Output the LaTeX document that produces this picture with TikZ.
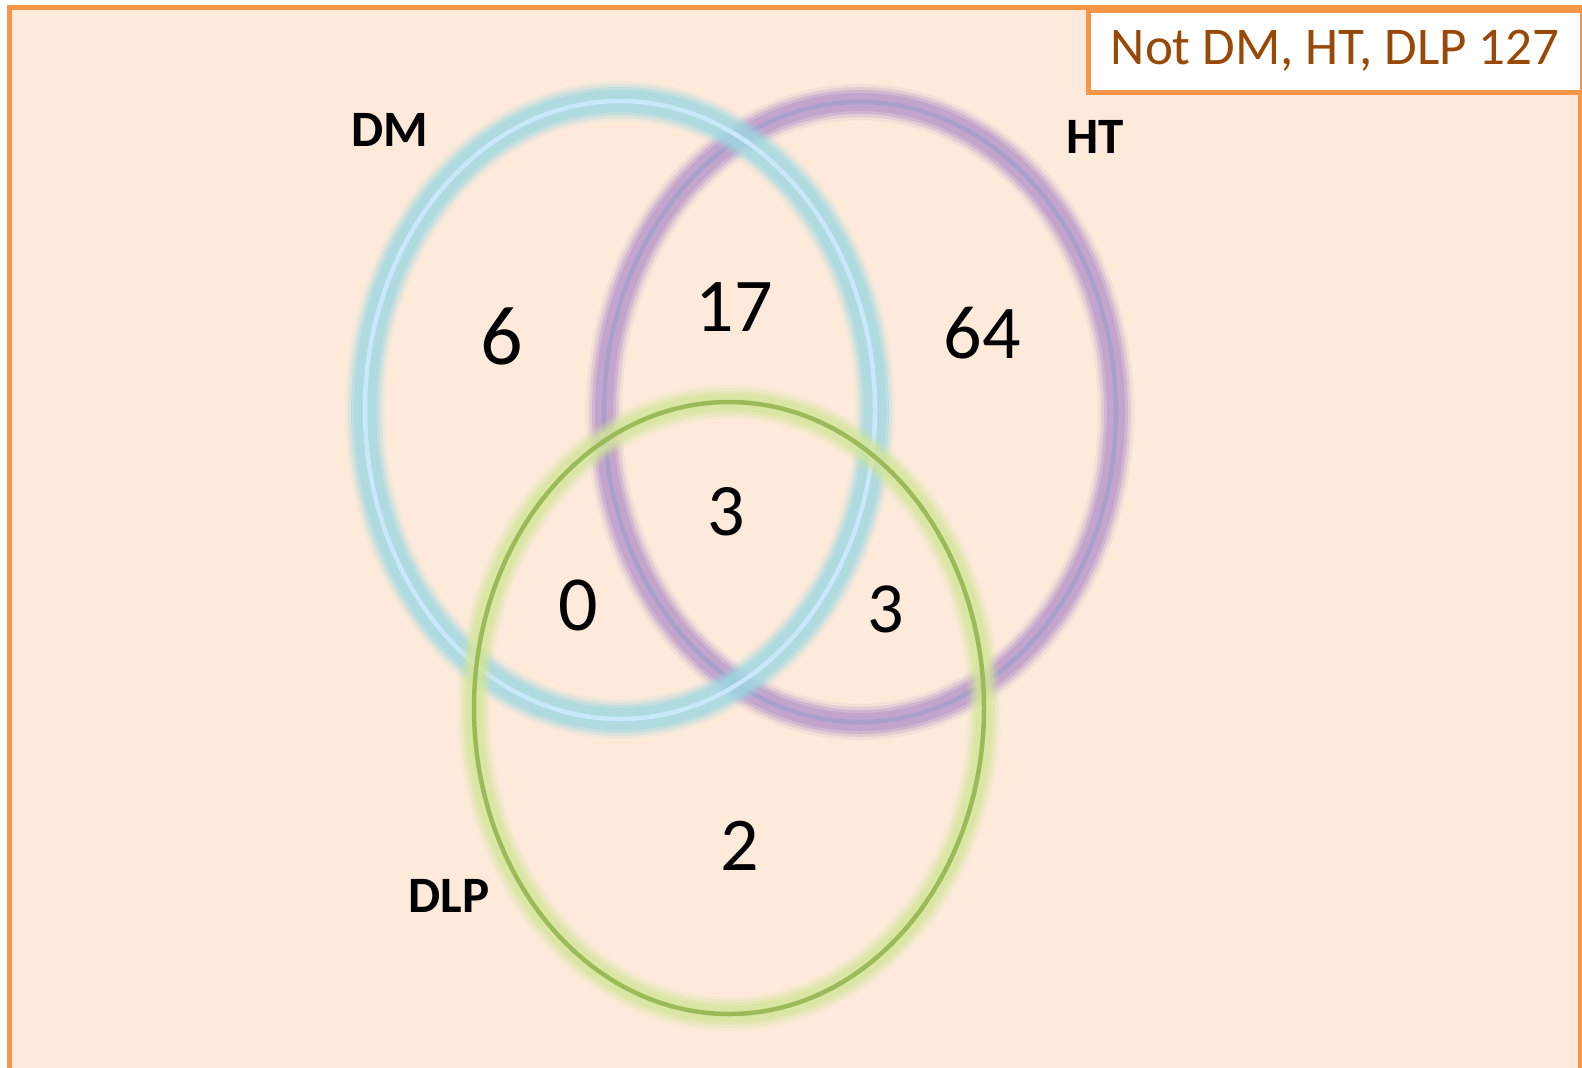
\documentclass[tikz,border=0pt]{standalone}
\usepackage{fontspec}
\setmainfont{Carlito}
\definecolor{bgfill}{HTML}{FDEADA}
\definecolor{frame}{HTML}{F79646}
\definecolor{labtext}{HTML}{984807}
\definecolor{dmglow}{HTML}{9ED8E2}
\definecolor{dmline}{HTML}{C9E8FB}
\definecolor{htglow}{HTML}{B796CC}
\definecolor{htline}{HTML}{A99FCC}
\definecolor{dlpglow}{HTML}{D2E69A}
\definecolor{dlpline}{HTML}{9BBB59}
\newcommand\glowring[6]{%
  \foreach \w/\o in {#5+16/0.12,#5+10/0.25,#5+4/0.4,#5-2/0.55}{%
    \draw[#4, line width=\w pt, opacity=\o] (#1) ellipse [x radius=#2, y radius=#3];}%
  \draw[#6, line width=4.5pt] (#1) ellipse [x radius=#2, y radius=#3];}
\begin{document}
\begin{tikzpicture}[x=1pt,y=-1pt,
  num/.style={font=\fontsize{#1}{#1}\selectfont, text=black, inner sep=0pt},
  setlab/.style={font=\fontsize{51}{56}\selectfont\bfseries, text=black, inner sep=0pt},
  notebox/.style={draw=frame, line width=5pt, fill=white, anchor=north west,
    minimum width=494pt, minimum height=82pt, inner sep=0pt,
    text=labtext, font=\fontsize{53}{60}\selectfont}]
\useasboundingbox (0,0) rectangle (1582,1068);
\fill[white] (0,0) rectangle (1582,1068);
\draw[frame, line width=5pt, fill=bgfill] (9.5,7.5) rectangle (1580,1090);
% rings
\glowring{860,412}{256}{310}{htglow}{20}{htline}
\glowring{620,410}{255}{309}{dmglow}{24}{dmline}
\glowring{729,708}{255}{306}{dlpglow}{18}{dlpline}
% labels
\node (notlab) [notebox] at (1085.5,7.5) {Not DM, HT, DLP 127};
\node (dm) [setlab] at (390,130) {DM};
\node (ht) [setlab] at (1095,137) {HT};
\node (dlp) [setlab] at (449,896) {DLP};
% numbers
\node (n6) [num=84] at (502,336) {6};
\node (n17) [num=76] at (734,307) {17};
\node (n64) [num=76] at (982,333) {64};
\node (n3a) [num=74] at (726,512) {3};
\node (n0) [num=78] at (578,605) {0};
\node (n3b) [num=72] at (886,609) {3};
\node (n2) [num=76] at (740,846) {2};
\end{tikzpicture}
\end{document}
